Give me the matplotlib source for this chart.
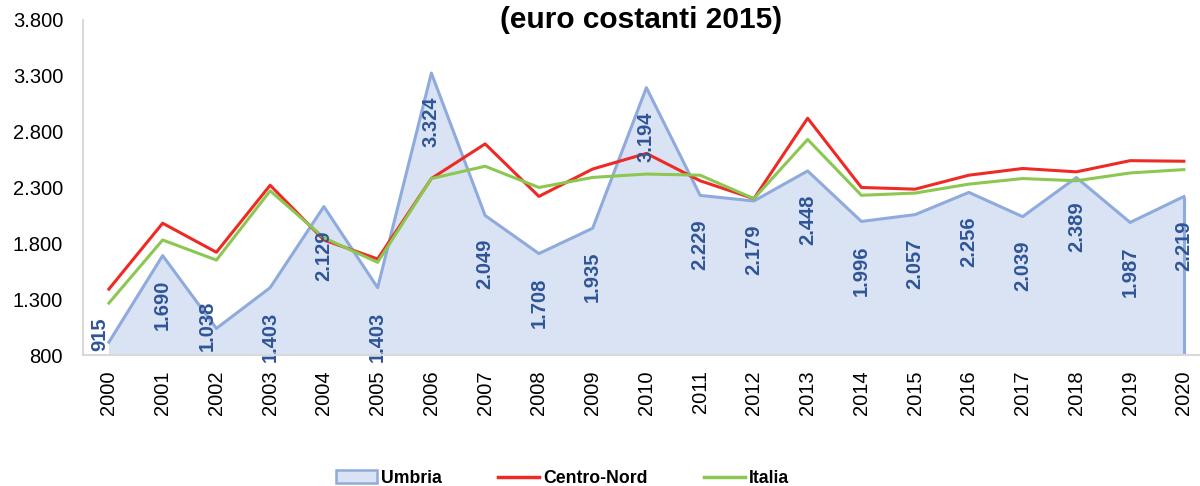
import numpy as np
import matplotlib.pyplot as plt
from matplotlib.patches import Patch
from matplotlib.lines import Line2D
from matplotlib.ticker import FuncFormatter

plt.rcParams['font.family'] = ['Liberation Sans', 'DejaVu Sans']

years = list(range(2000, 2021))
umbria = [915, 1690, 1038, 1403, 2129, 1403, 3324, 2049, 1708, 1935, 3194,
          2229, 2179, 2448, 1996, 2057, 2256, 2039, 2389, 1987, 2219]
centro_nord = [1390, 1980, 1720, 2320, 1830, 1660, 2380, 2690, 2220, 2465, 2605,
               2360, 2200, 2920, 2300, 2285, 2410, 2470, 2440, 2540, 2535]
italia = [1265, 1830, 1650, 2270, 1850, 1630, 2380, 2490, 2300, 2390, 2420,
          2410, 2200, 2730, 2230, 2250, 2330, 2380, 2360, 2430, 2460]
yticks = [800, 1300, 1800, 2300, 2800, 3300, 3800]


def it_fmt(v, pos=None):
    return f"{int(round(v)):,}".replace(",", ".")


def main():
    fig = plt.figure(figsize=(12, 4.86), dpi=100)
    ax = fig.add_axes([0.0688, 0.2695, 0.9312, 0.6895])
    x = np.arange(len(years))
    base = yticks[0]

    ax.fill_between(x, base, umbria, facecolor='#DAE3F3', linewidth=0, zorder=1)
    ax.plot(x, umbria, color='#8FAADC', lw=2.2, zorder=2)
    ax.vlines(x[-1], base, umbria[-1], color='#8FAADC', lw=2.2, zorder=2)
    ax.plot(x, centro_nord, color='#EE2A24', lw=2.2, zorder=3)
    ax.plot(x, italia, color='#8CC751', lw=2.2, zorder=3)

    # labels of the lowest points are pushed up to stay inside the chart
    for xi, v in zip(x, umbria):
        if v - base < 300:
            ax.text(xi - 0.17, base + 40, it_fmt(v), rotation=90, ha='center', va='bottom',
                    fontsize=14.5, fontweight='bold', color='#2F5597', zorder=4)
        else:
            ax.annotate(it_fmt(v), (xi, v), xytext=(0, -17), textcoords='offset points',
                        rotation=90, ha='center', va='top', fontsize=14.5,
                        fontweight='bold', color='#2F5597', zorder=4,
                        annotation_clip=False)

    ax.set_xlim(-0.49, len(years) - 1 + 0.3)
    ax.set_ylim(yticks[0], yticks[-1])
    ax.set_yticks(yticks)
    ax.yaxis.set_major_formatter(FuncFormatter(it_fmt))
    ax.set_xticks(x)
    ax.set_xticklabels([str(y) for y in years], rotation=90)
    ax.tick_params(axis='both', length=0, labelsize=14.5, colors='black')
    ax.tick_params(axis='y', pad=14)
    ax.tick_params(axis='x', pad=11)
    for s in ['top', 'right']:
        ax.spines[s].set_visible(False)
    for s in ['left', 'bottom']:
        ax.spines[s].set_color('#D9D9D9')
        ax.spines[s].set_linewidth(1.5)
        ax.spines[s].set_zorder(5)

    fig.text(0.534, 0.987, "(euro costanti 2015)", ha='center', va='top',
             fontsize=21.5, fontweight='bold')

    handles = [Patch(facecolor='#DAE3F3', edgecolor='#8FAADC', linewidth=1.8),
               Line2D([], [], color='#EE2A24', lw=2.5),
               Line2D([], [], color='#8CC751', lw=2.5)]
    fig.legend(handles, ['Umbria', 'Centro-Nord', 'Italia'], loc='center',
               bbox_to_anchor=(0.469, 0.016), ncol=3, frameon=False,
               prop={'weight': 'bold', 'size': 12.7}, columnspacing=3.2,
               handlelength=2.3, handletextpad=0.25)

    fig.savefig('out.png', dpi=100)


if __name__ == '__main__':
    main()
